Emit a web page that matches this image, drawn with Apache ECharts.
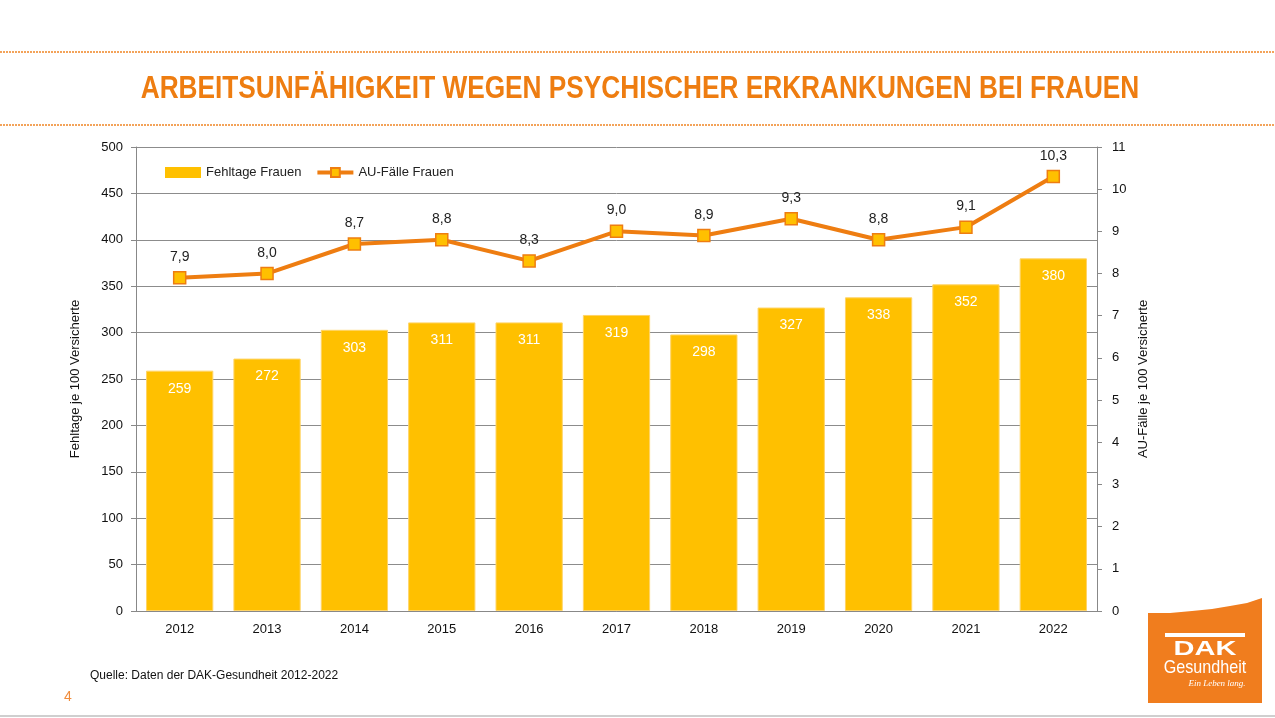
<!DOCTYPE html>
<html><head><meta charset="utf-8">
<script src="https://cdn.jsdelivr.net/npm/echarts@6/dist/echarts.min.js"></script>
<style>html,body{margin:0;padding:0;background:#fff}#c{width:1275px;height:718px}</style>
</head><body><div id="c"></div>
<script>
const years = ['2012','2013','2014','2015','2016','2017','2018','2019','2020','2021','2022'];
const fehltage = [259,272,303,311,311,319,298,327,338,352,380];
const auFaelle = [7.9,8.0,8.7,8.8,8.3,9.0,8.9,9.3,8.8,9.1,10.3];
const leftTicks = {min:0, max:500, interval:50};
const rightTicks = {min:0, max:11, interval:1};

const FONT = '"Liberation Sans", Arial, sans-serif';
const chart = echarts.init(document.getElementById('c'));
const fmt = v => Number(v).toFixed(1).replace('.', ',');

chart.setOption({
  animation:false,
  textStyle:{fontFamily:FONT},
  grid:{left:136, right:178, top:147, bottom:107},
  legend:{
    left:160, top:161, itemGap:14, itemWidth:36, itemHeight:11,
    textStyle:{fontSize:13, color:'#222', fontFamily:FONT},
    data:[
      {name:'Fehltage Frauen', icon:'rect', itemStyle:{borderWidth:0}},
      {name:'AU-Fälle Frauen', lineStyle:{width:4, color:'#EE7D11'}}
    ]
  },
  xAxis:{
    type:'category', data:years,
    axisLine:{lineStyle:{color:'#888'}},
    axisTick:{length:5, lineStyle:{color:'#888'}},
    axisLabel:{color:'#111', fontSize:13, margin:12, fontFamily:FONT}
  },
  yAxis:[{
    type:'value', min:leftTicks.min, max:leftTicks.max, interval:leftTicks.interval,
    name:'Fehltage je 100 Versicherte', nameLocation:'middle', nameGap:54, nameRotate:90,
    nameTextStyle:{fontSize:13, color:'#111', fontFamily:FONT},
    axisLine:{show:true, lineStyle:{color:'#888'}},
    axisTick:{show:true, length:5, lineStyle:{color:'#888'}},
    axisLabel:{color:'#111', fontSize:13, margin:13, fontFamily:FONT},
    splitLine:{lineStyle:{color:'#8c8c8c'}}
  },{
    type:'value', min:rightTicks.min, max:rightTicks.max, interval:rightTicks.interval, position:'right',
    name:'AU-Fälle je 100 Versicherte', nameLocation:'middle', nameGap:38, nameRotate:90,
    nameTextStyle:{fontSize:13, color:'#111', fontFamily:FONT},
    axisLine:{show:true, lineStyle:{color:'#888'}},
    axisTick:{show:true, length:5, lineStyle:{color:'#888'}},
    axisLabel:{color:'#111', fontSize:13, margin:15, fontFamily:FONT},
    splitLine:{show:false}
  }],
  series:[{
    name:'Fehltage Frauen', type:'bar', data:fehltage, barCategoryGap:'23%',
    itemStyle:{color:'#FFC000', borderColor:'#FFD466', borderWidth:1},
    label:{show:true, position:'insideTop', distance:11, color:'#fff', fontSize:14, fontFamily:FONT}
  },{
    name:'AU-Fälle Frauen', type:'line', yAxisIndex:1, data:auFaelle,
    symbol:'rect', symbolSize:12,
    lineStyle:{color:'#EE7D11', width:4},
    itemStyle:{color:'#FFC000', borderColor:'#EE7D11', borderWidth:1.5},
    label:{show:true, position:'top', distance:7, color:'#222', fontSize:14, fontFamily:FONT,
      formatter:p => fmt(p.value)},
    z:5
  }],
  graphic:[
    {type:'line', shape:{x1:0,y1:52,x2:1275,y2:52}, style:{stroke:'#F3A35A', lineWidth:2, lineDash:[2,1]}},
    {type:'line', shape:{x1:0,y1:125,x2:1275,y2:125}, style:{stroke:'#F3A35A', lineWidth:2, lineDash:[2,1]}},
    {type:'text', x:640, y:89, scaleX:0.82, originX:0, style:{text:'ARBEITSUNFÄHIGKEIT WEGEN PSYCHISCHER ERKRANKUNGEN BEI FRAUEN',
      fill:'#EE7D11', font:'bold 32px "Liberation Sans", Arial, sans-serif',
      textAlign:'center', textVerticalAlign:'middle'}},
    {type:'text', x:90, y:676, style:{text:'Quelle: Daten der DAK-Gesundheit 2012-2022', fill:'#111',
      font:'12px "Liberation Sans", Arial, sans-serif', textVerticalAlign:'middle'}},
    {type:'text', x:64, y:697, style:{text:'4', fill:'#F08C3C', font:'14px "Liberation Sans", Arial, sans-serif', textVerticalAlign:'middle'}},
    {type:'line', shape:{x1:0,y1:716,x2:1275,y2:716}, style:{stroke:'#cfcfcf', lineWidth:2}},
    {type:'polygon', shape:{points:[[1148,613],[1170,613],[1192,611],[1212,609],[1230,606],[1247,603],[1262,598],[1262,703],[1148,703]]}, style:{fill:'#F07D1E'}},
    {type:'rect', shape:{x:1165,y:633,width:80,height:4}, style:{fill:'#fff'}},
    {type:'text', x:1205, y:649, scaleX:1.45, originX:0, style:{text:'DAK', fill:'#fff', font:'bold 20px "Liberation Sans", Arial, sans-serif', textAlign:'center', textVerticalAlign:'middle'}},
    {type:'text', x:1205, y:668, scaleX:0.85, originX:0, style:{text:'Gesundheit', fill:'#fff', font:'19px "Liberation Sans", Arial, sans-serif', textAlign:'center', textVerticalAlign:'middle'}},
    {type:'text', x:1217, y:684, style:{text:'Ein Leben lang.', fill:'#fff', font:'italic 9px "Liberation Serif", serif', textAlign:'center', textVerticalAlign:'middle'}}
  ]
});
</script></body></html>
